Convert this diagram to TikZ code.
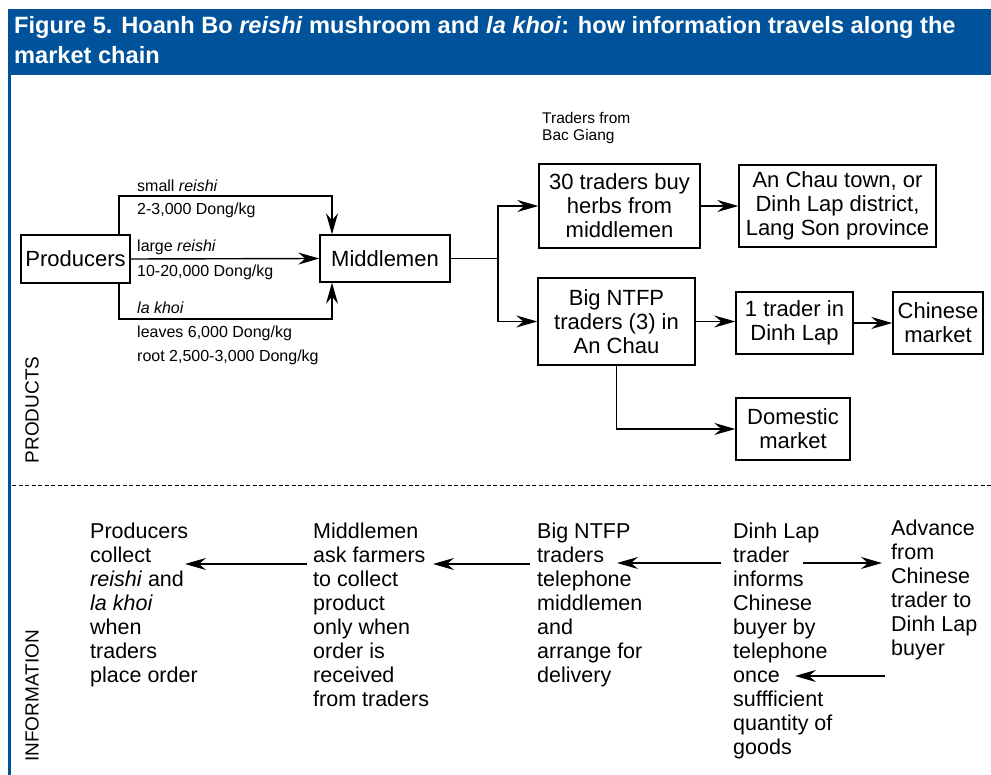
\documentclass[tikz,border=0pt]{standalone}
\usepackage{fontspec}
\setmainfont{Liberation Sans}
\usetikzlibrary{arrows.meta}
\definecolor{figblue}{RGB}{0,83,155}
\begin{document}
\begin{tikzpicture}[x=1pt,y=-1pt,
  arr/.style={-{Stealth[length=21pt,width=12pt,inset=7pt]}, line width=1.4pt},
  conn/.style={line width=1.4pt},
  box/.style={draw, line width=1.4pt, align=center, inner sep=0pt, font=\fontsize{22}{24}\selectfont},
  lbl/.style={anchor=west, inner sep=0pt, font=\fontsize{16}{17}\selectfont},
  info/.style={anchor=north west, align=left, inner sep=0pt, font=\fontsize{21.5}{24}\selectfont},
  side/.style={rotate=90, inner sep=0pt, font=\fontsize{19}{20}\selectfont}]
\useasboundingbox (0,0) rectangle (991,775);
\fill[white] (0,0) rectangle (991,775);
% title bar
\fill[figblue] (8,9) rectangle (991,75);
\draw[figblue, line width=2.5pt] (9.5,75) -- (9.5,775);
\node[anchor=north west, inner sep=0pt, align=left, text=white,
  font=\bfseries\fontsize{23.6}{30}\selectfont] (title) at (14,16)
  {Figure 5. Hoanh Bo \textit{reishi} mushroom and \textit{la khoi}: how information travels along the\\market chain};
% dashed separator
\draw[line width=1pt, dash pattern=on 4pt off 2.5pt] (12,485) -- (991,485);
% side labels
\node[side] (products) at (32,410) {PRODUCTS};
\node[side] (information) at (32,696) {INFORMATION};
% boxes
\node[box, minimum width=109pt, minimum height=48pt] (prod) at (75.5,259) {Producers};
\node[box, minimum width=130pt, minimum height=47pt] (mid) at (385,258.5) {Middlemen};
\node[box, minimum width=161pt, minimum height=84pt] (tr30) at (619.5,206) {30 traders buy\\herbs from\\middlemen};
\node[box, minimum width=197pt, minimum height=82pt] (anchau) at (837.5,206) {An Chau town, or\\Dinh Lap district,\\Lang Son province};
\node[box, minimum width=157pt, minimum height=87pt] (big) at (616.5,321.5) {Big NTFP\\traders (3) in\\An Chau};
\node[box, minimum width=117pt, minimum height=62pt] (one) at (794.5,323) {1 trader in\\Dinh Lap};
\node[box, minimum width=90pt, minimum height=62pt] (chin) at (938,323) {Chinese\\market};
\node[box, minimum width=114pt, minimum height=62pt] (dom) at (793,429) {Domestic\\market};
% labels
\node[lbl] (l1) at (137,186) {small \textit{reishi}};
\node[lbl] (l2) at (137,210) {2-3,000 Dong/kg};
\node[lbl] (l3) at (137,247) {large \textit{reishi}};
\node[lbl] (l4) at (137,272) {10-20,000 Dong/kg};
\node[lbl] (l5) at (137,308) {\textit{la khoi}};
\node[lbl] (l6) at (137,333) {leaves 6,000 Dong/kg};
\node[lbl] (l7) at (137,357) {root 2,500-3,000 Dong/kg};
\node[anchor=north west, align=left, inner sep=0pt, font=\fontsize{15.5}{17}\selectfont] (bg) at (542,112) {Traders from\\Bac Giang};
% product connectors
\coordinate (ctop) at (200,196);
\coordinate (cbot) at (200,319);
\coordinate (j) at (498,258.5);
\draw[arr] ([xshift=43.5pt]prod.north) |- (ctop) -| ([xshift=-53pt]mid.north);
\draw[arr] ([xshift=43.5pt]prod.south) |- (cbot) -| ([xshift=-53pt]mid.south);
\draw[arr] (prod.east) -- (mid.west);
\draw[conn] (mid.east) -- (j);
\draw[arr] (j) |- (tr30.west);
\draw[arr] (j) |- (big.west);
\draw[arr] (tr30.east) -- (anchau.west);
\draw[arr] (big.east) -- (big.east -| one.west);
\draw[arr] (one.east) -- (chin.west);
\draw[arr] (big.south) |- (dom.west);
% information
\node[info] (prodi) at (90,523) {Producers\\collect\\\textit{reishi} and\\\textit{la khoi}\\when\\traders\\place order};
\node[info] (midi) at (313,523) {Middlemen\\ask farmers\\to collect\\product\\only when\\order is\\received\\from traders};
\node[info] (bigi) at (537,523) {Big NTFP\\traders\\telephone\\middlemen\\and\\arrange for\\delivery};
\node[info] (dinhi) at (733,523) {Dinh Lap\\trader\\informs\\Chinese\\buyer by\\telephone\\once\\suffficient\\quantity of\\goods};
\node[info] (advi) at (891,520) {Advance\\from\\Chinese\\trader to\\Dinh Lap\\buyer};
\draw[arr] ([shift={(-6,41)}]midi.north west) -- ([shift={(95,41)}]prodi.north west);
\draw[arr] ([shift={(-7,41)}]bigi.north west) -- ([shift={(120,41)}]midi.north west);
\draw[arr] ([shift={(-12,40)}]dinhi.north west) -- ([shift={(80,40)}]bigi.north west);
\draw[arr] ([shift={(70,40)}]dinhi.north west) -- ([shift={(-9,43)}]advi.north west);
\draw[arr] ([shift={(-6,156)}]advi.north west) -- ([shift={(62,153)}]dinhi.north west);
\end{tikzpicture}
\end{document}
